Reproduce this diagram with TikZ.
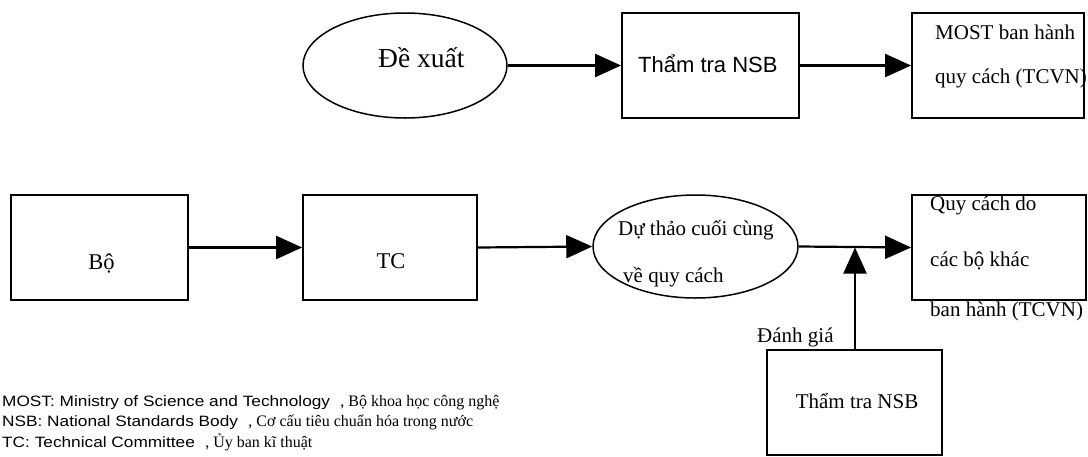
\documentclass[tikz,border=0pt]{standalone}
\usepackage{fontspec}
\setmainfont{Liberation Serif}
\newfontfamily\gothic{Liberation Sans}
\newfontfamily\gothicwide[FakeStretch=1.15]{Liberation Sans}
\usetikzlibrary{arrows.meta,shapes.geometric,calc}

\tikzset{
  box/.style={draw, line width=1.8pt, minimum width=177pt, minimum height=105pt, inner sep=0pt},
  oval/.style={draw, ellipse, line width=1.5pt, inner sep=0pt},
  flow/.style={line width=2.2pt, -{Triangle[length=26pt,width=23pt]}},
  lbl/.style={inner sep=0pt, anchor=base west, font=\fontsize{21}{24}\selectfont},
  clbl/.style={lbl, anchor=base},
  legen/.style={inner sep=0pt, anchor=base west, font=\gothicwide\fontsize{15}{18}\selectfont},
  legvi/.style={inner sep=0pt, anchor=base west, font=\fontsize{16}{18}\selectfont},
}

\begin{document}
\begin{tikzpicture}[x=1pt, y=-1pt]
\useasboundingbox (0,0) rectangle (1088,456);

% upper chain: proposal -> NSB review -> MOST issues the standard
\node[oval, minimum width=204pt, minimum height=105pt] (prop) at (405,65.5) {};
\node[lbl, font=\fontsize{27.5}{30}\selectfont] (propt) at (378,67) {Đề xuất};

\node[box] (nsb1) at (710.5,65.5) {};
\node[lbl, font=\gothic\fontsize{22}{26}\selectfont] (nsb1t) at (638,72) {Thẩm tra NSB};

\node[box, minimum width=172pt] (most) at (998,65.5) {};
\node[lbl] (most1) at (935,39) {MOST ban hành};
\node[lbl] (most2) at (935,83) {quy cách (TCVN)};

\draw[flow] (prop.east) -- (nsb1.west);
\draw[flow] (nsb1.east) -- (most.west);

% lower chain: ministry -> TC -> final draft -> standard issued by other ministries
\node[box] (bo) at (99.5,247.5) {};
\node[clbl, font=\fontsize{22.5}{26}\selectfont] (bot) at (101.5,269) {Bộ};

\node[box, minimum width=174pt] (tc) at (390,247.5) {};
\node[clbl, font=\fontsize{22.5}{26}\selectfont] (tct) at (391,268) {TC};

\node[oval, minimum width=205pt, minimum height=103pt] (draft) at (695.5,246.5) {};
\node[lbl] (draft1) at (618,235) {Dự thảo cuối cùng};
\node[lbl] (draft2) at (623,282) {về quy cách};

\node[box, minimum width=174pt] (spec) at (999,247.5) {};
\node[lbl] (spec1) at (930,210) {Quy cách do};
\node[lbl] (spec2) at (930,266) {các bộ khác};
\node[lbl] (spec3) at (930,316) {ban hành (TCVN)};

\node[box, minimum width=175pt] (nsb2) at (854.5,402.5) {};
\node[clbl] (nsb2t) at (857,408) {Thẩm tra NSB};
\node[lbl] (eval) at (757,342) {Đánh giá};

\coordinate (join) at (855,247.5);

\draw[flow] (bo.east) -- (tc.west);
\draw[flow] (tc.east) -- (draft.west);
\draw[flow] (draft.east) -- (spec.west);
\draw[flow] (nsb2.north -| join) -- (join);

% abbreviations
\node[legen] (leg1) at (2,406) {MOST: Ministry of Science and Technology};
\node[legvi] (leg1v) at ([xshift=10pt]leg1.base east) {, Bộ khoa học công nghệ};
\node[legen] (leg2) at (2,426.5) {NSB: National Standards Body};
\node[legvi] (leg2v) at ([xshift=10pt]leg2.base east) {, Cơ cấu tiêu chuẩn hóa trong nước};
\node[legen] (leg3) at (2,447) {TC: Technical Committee};
\node[legvi] (leg3v) at ([xshift=10pt]leg3.base east) {, Ủy ban kĩ thuật};
\end{tikzpicture}
\end{document}
